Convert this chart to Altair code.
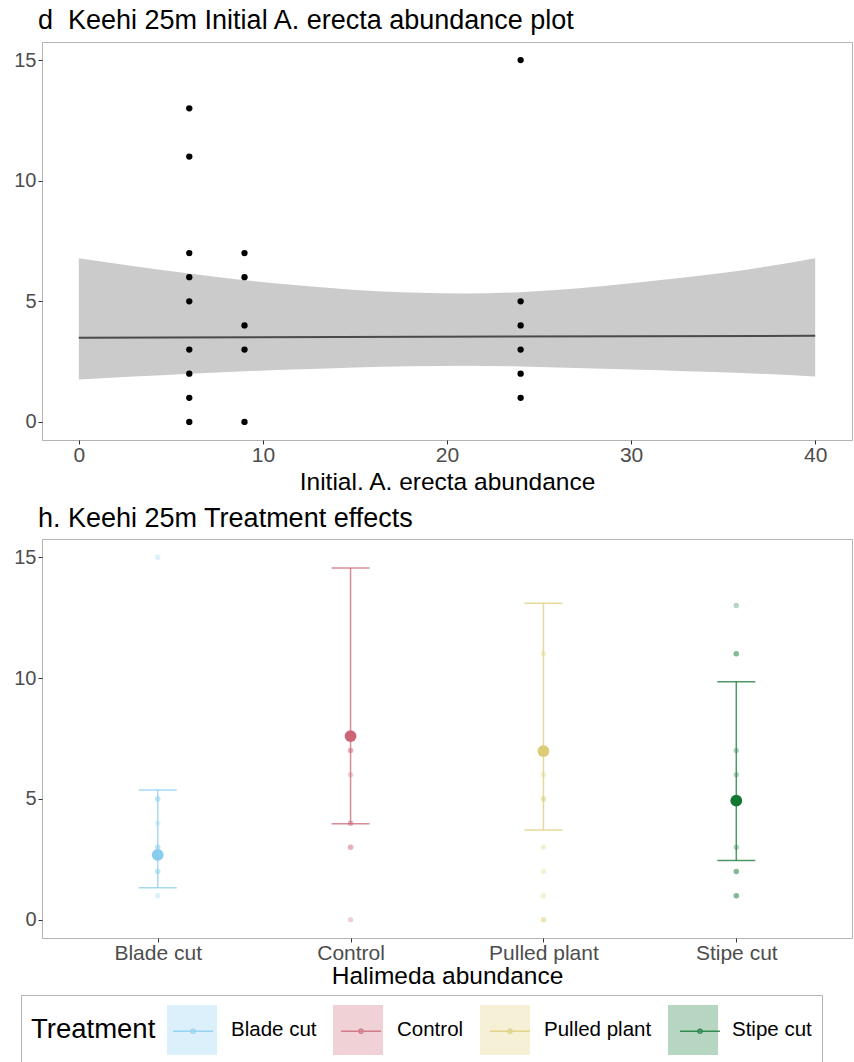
import altair as alt
import pandas as pd

FONT = "Liberation Sans"

# ---------------- top panel data ----------------
init_abund = [6, 6, 6, 6, 6, 6, 6, 6, 6, 9, 9, 9, 9, 9, 24, 24, 24, 24, 24, 24]
final_abund = [13, 11, 7, 6, 5, 3, 2, 1, 0, 7, 6, 4, 3, 0, 15, 5, 4, 3, 2, 1]
fit_x = [0, 40]
fit_y = [3.49, 3.57]
band_x = [0, 3, 6, 9, 12, 15, 18, 21, 24, 27, 30, 33, 36, 40]
band_lo = [1.76, 1.88, 2.0, 2.1, 2.18, 2.26, 2.31, 2.33, 2.3, 2.24, 2.17, 2.1, 2.03, 1.88]
band_hi = [6.78, 6.45, 6.15, 5.87, 5.65, 5.47, 5.37, 5.32, 5.38, 5.53, 5.75, 6.0, 6.28, 6.79]

# ---------------- bottom panel data ----------------
treatments = ["Blade cut", "Control", "Pulled plant", "Stipe cut"]
colors = ["#88CCEE", "#CC6677", "#DDCC77", "#117733"]
obs_treat = (["Blade cut"] * 9 + ["Control"] * 8 + ["Pulled plant"] * 9 + ["Stipe cut"] * 10)
obs_val = [15, 5, 5, 4, 3, 3, 2, 2, 1,
           7, 7, 6, 4, 4, 3, 3, 0,
           11, 6, 5, 5, 3, 2, 1, 0, 0,
           13, 11, 11, 7, 6, 3, 2, 2, 1, 1]
mean_val = [2.69, 7.6, 6.98, 4.93]
ci_lo = [1.33, 3.97, 3.72, 2.45]
ci_hi = [5.37, 14.55, 13.09, 9.85]

top_df = pd.DataFrame({"init": init_abund, "final": final_abund})
fit_df = pd.DataFrame({"init": fit_x, "final": fit_y})
band_df = pd.DataFrame({"init": band_x, "lo": band_lo, "hi": band_hi})
obs_df = pd.DataFrame({"treat": obs_treat, "val": obs_val})
sum_df = pd.DataFrame({"treat": treatments, "mean": mean_val, "lo": ci_lo, "hi": ci_hi})

ys = alt.Scale(domain=[-0.75, 15.75], nice=False, zero=False)
xs = alt.Scale(domain=[-2, 42], nice=False, zero=False)
y_ax = alt.Axis(values=[0, 5, 10, 15], title=None, labelPadding=2, labelFontSize=20)
x_ax = alt.Axis(values=[0, 10, 20, 30, 40], title="Initial. A. erecta abundance",
                labelPadding=0, labelFontSize=21, titlePadding=5)

X = alt.X("init:Q", scale=xs, axis=x_ax)
band = alt.Chart(band_df).mark_area(color="#CBCBCB", opacity=1, interpolate="monotone").encode(
    x=X, y=alt.Y("lo:Q", scale=ys, axis=y_ax), y2="hi:Q")
fit = alt.Chart(fit_df).mark_line(color="#4A4A4A", strokeWidth=2).encode(
    x=X, y=alt.Y("final:Q", scale=ys, axis=y_ax))
pts = alt.Chart(top_df).mark_circle(color="black", opacity=1, size=40).encode(
    x=X, y=alt.Y("final:Q", scale=ys, axis=y_ax))

top = alt.layer(band, fit, pts).properties(
    width=810, height=398,
    title=alt.TitleParams(text="d\u00a0\u00a0Keehi 25m Initial A. erecta abundance plot",
                          anchor="start", frame="group", fontSize=27, fontWeight="normal",
                          color="black", dx=-4, offset=7))

# ---------------- bottom ----------------
xb = alt.Scale(type="point", domain=treatments, padding=0.6)
xb_ax = alt.Axis(title="Halimeda abundance", labelAngle=0, labelPadding=0,
                 labelFontSize=21, titlePadding=1)
XB = alt.X("treat:N", scale=xb, axis=xb_ax)
fill_scale = alt.Scale(domain=treatments, range=colors)
stroke_scale = alt.Scale(range=colors)
color_scale = alt.Scale(domain=treatments, range=colors)

common_leg = dict(title="Treatment", orient="none", legendX=-21, legendY=953,
                  direction="horizontal", symbolSize=2500, titleOrient="left",
                  titleFontSize=27.5, titleFontWeight="normal", titleColor="black",
                  titleAnchor="middle", titleBaseline="middle",
                  labelFontSize=20.5, labelColor="black", labelOffset=14, columnPadding=16,
                  padding=10, titlePadding=11)
leg1 = alt.Legend(symbolType="square", symbolOpacity=0.3, symbolStrokeWidth=0,
                  strokeColor="#B3B3B3", **common_leg)
leg2 = alt.Legend(symbolType="M-0.8,0H0.8M-0.08,0A0.08,0.08,0,1,1,0.08,0A0.08,0.08,0,1,1,-0.08,0",
                  symbolStrokeWidth=1.5, symbolOpacity=0.8, labelOpacity=0, titleOpacity=0,
                  **common_leg)

raw = alt.Chart(obs_df).mark_circle(size=30, opacity=0.3).encode(
    x=XB, y=alt.Y("val:Q", scale=ys, axis=y_ax),
    fill=alt.Fill("treat:N", scale=fill_scale, legend=leg1))
vrule = alt.Chart(sum_df).mark_rule(strokeWidth=1.5, opacity=0.75).encode(
    x=XB, y=alt.Y("lo:Q", scale=ys, axis=y_ax), y2="hi:Q",
    stroke=alt.Stroke("treat:N", scale=stroke_scale, legend=leg2))
cap_hi = alt.Chart(sum_df).mark_tick(size=38, thickness=1.5, opacity=0.75).encode(
    x=XB, y=alt.Y("hi:Q", scale=ys, axis=y_ax),
    color=alt.Color("treat:N", scale=color_scale, legend=None))
cap_lo = alt.Chart(sum_df).mark_tick(size=38, thickness=1.5, opacity=0.75).encode(
    x=XB, y=alt.Y("lo:Q", scale=ys, axis=y_ax),
    color=alt.Color("treat:N", scale=color_scale, legend=None))
means = alt.Chart(sum_df).mark_circle(size=140, opacity=1).encode(
    x=XB, y=alt.Y("mean:Q", scale=ys, axis=y_ax),
    fill=alt.Fill("treat:N", scale=fill_scale, legend=leg1))

bottom = alt.layer(raw, vrule, cap_hi, cap_lo, means).properties(
    width=810, height=399,
    title=alt.TitleParams(text="h. Keehi 25m Treatment effects",
                          anchor="start", frame="group", fontSize=27, fontWeight="normal",
                          color="black", dx=-4, offset=6))

chart = alt.vconcat(top, bottom, spacing=10).properties(
    padding={"left": 13, "top": 6, "right": 0, "bottom": 0}
).configure(font=FONT).configure_view(
    stroke="#B3B3B3", strokeWidth=1
).configure_axis(
    domain=False, grid=False, tickColor="#333333", tickSize=4, tickWidth=1,
    labelColor="#4D4D4D",
    titleFontSize=24.5, titleFontWeight="normal", titleColor="black"
)

chart.save("out.html", embed_options={"renderer": "svg", "actions": False})
